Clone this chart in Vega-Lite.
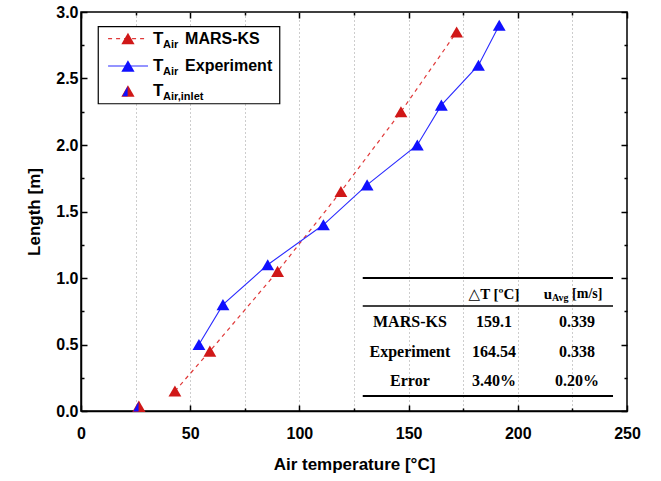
{
  "$schema": "https://vega.github.io/schema/vega-lite/v6.json",
  "width": 546,
  "height": 399,
  "autosize": {"type": "none"},
  "padding": {"left": 81, "top": 12, "right": 34, "bottom": 70},
  "background": "white",
  "config": {
    "view": {"stroke": "black", "strokeWidth": 1.5},
    "axis": {
      "labelFont": "Liberation Sans",
      "labelFontWeight": "bold",
      "labelFontSize": 16,
      "labelColor": "black",
      "titleFont": "Liberation Sans",
      "titleFontWeight": "bold",
      "titleFontSize": 17,
      "titleColor": "black",
      "tickColor": "black",
      "tickWidth": 1.5,
      "domainColor": "black",
      "domainWidth": 1.5
    }
  },
  "datasets": {
    "pts": [
      {"series": "MARS-KS", "T": 43, "L": 0.15},
      {"series": "MARS-KS", "T": 59, "L": 0.45},
      {"series": "MARS-KS", "T": 90, "L": 1.05},
      {"series": "MARS-KS", "T": 119, "L": 1.65},
      {"series": "MARS-KS", "T": 146.5, "L": 2.25},
      {"series": "MARS-KS", "T": 172, "L": 2.85},
      {"series": "Experiment", "T": 54, "L": 0.5},
      {"series": "Experiment", "T": 65, "L": 0.8},
      {"series": "Experiment", "T": 85.5, "L": 1.1},
      {"series": "Experiment", "T": 111, "L": 1.4},
      {"series": "Experiment", "T": 131, "L": 1.7},
      {"series": "Experiment", "T": 154, "L": 2.0},
      {"series": "Experiment", "T": 165, "L": 2.3},
      {"series": "Experiment", "T": 182, "L": 2.6},
      {"series": "Experiment", "T": 191.5, "L": 2.9}
    ],
    "inlet": [{"T": 26.5, "L": 0.035}],
    "legbox": [{"x": 7.9, "x2": 91, "y": 2.89, "y2": 2.31}],
    "leg": [
      {"series": "MARS-KS", "main": "MARS-KS", "sub": "Air", "ly": 2.80},
      {"series": "Experiment", "main": "Experiment", "sub": "Air", "ly": 2.594},
      {"series": "inlet", "main": "", "sub": "Air,inlet", "ly": 2.406}
    ],
    "thick": [
      {"x": 129, "x2": 243.6, "y": 1.0},
      {"x": 129, "x2": 243.6, "y": 0.113}
    ],
    "thin": [{"x": 129, "x2": 243.6, "y": 0.79}],
    "cells": [
      {"x": 150.6, "y": 0.669, "t": "MARS-KS"},
      {"x": 189.1, "y": 0.669, "t": "159.1"},
      {"x": 227.1, "y": 0.669, "t": "0.339"},
      {"x": 150.6, "y": 0.447, "t": "Experiment"},
      {"x": 189.1, "y": 0.447, "t": "164.54"},
      {"x": 227.1, "y": 0.447, "t": "0.338"},
      {"x": 150.6, "y": 0.228, "t": "Error"},
      {"x": 189.1, "y": 0.228, "t": "3.40%"},
      {"x": 227.1, "y": 0.228, "t": "0.20%"}
    ],
    "head": [{"x": 189.1, "y": 0.88, "t": "△T [ºC]"}],
    "uhead": [{"x": 215.7, "y": 0.88, "u": "u", "s": "Avg", "m": "[m/s]"}]
  },
  "resolve": {"axis": {"x": "independent", "y": "independent"}},
  "layer": [
    {
      "data": {"name": "pts"},
      "transform": [{"filter": "datum.series === 'MARS-KS'"}],
      "mark": {"type": "line", "color": "#e03a3a", "strokeWidth": 1.2, "strokeDash": [4, 4]},
      "encoding": {
        "x": {
          "field": "T", "type": "quantitative",
          "scale": {"domain": [0, 250], "nice": false, "zero": false},
          "axis": {
            "orient": "bottom",
            "values": [0, 25, 50, 75, 100, 125, 150, 175, 200, 225, 250],
            "labelExpr": "datum.value % 50 === 0 ? datum.label : ''",
            "format": "d",
            "tickSize": {"condition": {"test": "datum.value % 50 === 0", "value": -6}, "value": -3},
            "labelPadding": 20,
            "labelFlush": false,
            "grid": true,
            "gridDash": [1, 3],
            "gridWidth": 1,
            "gridColor": {"condition": {"test": "datum.value === 0 || datum.value === 250", "value": "transparent"}, "value": "#9a9a9a"},
            "title": "Air temperature  [°C]",
            "titlePadding": 15
          }
        },
        "y": {
          "field": "L", "type": "quantitative",
          "scale": {"domain": [0, 3], "nice": false},
          "axis": {
            "orient": "left",
            "values": [0, 0.25, 0.5, 0.75, 1, 1.25, 1.5, 1.75, 2, 2.25, 2.5, 2.75, 3],
            "format": ".1f",
            "labelExpr": "(datum.value * 2) % 1 === 0 ? datum.label : ''",
            "tickSize": {"condition": {"test": "(datum.value * 2) % 1 === 0", "value": -6}, "value": -3},
            "labelPadding": 9,
            "labelFlush": false,
            "grid": false,
            "title": "Length [m]",
            "titlePadding": 12
          }
        }
      }
    },
    {
      "data": {"name": "pts"},
      "transform": [{"filter": "datum.series === 'Experiment'"}],
      "mark": {"type": "line", "color": "#2a2aff", "strokeWidth": 1.1},
      "encoding": {
        "x": {
          "field": "T", "type": "quantitative",
          "scale": {"domain": [0, 250], "nice": false, "zero": false},
          "axis": {
            "orient": "top",
            "values": [0, 25, 50, 75, 100, 125, 150, 175, 200, 225, 250],
            "labels": false,
            "domain": false,
            "grid": false,
            "title": null,
            "tickSize": {"condition": {"test": "datum.value % 50 === 0", "value": -6}, "value": -3}
          }
        },
        "y": {
          "field": "L", "type": "quantitative",
          "scale": {"domain": [0, 3], "nice": false},
          "axis": {
            "orient": "right",
            "values": [0, 0.25, 0.5, 0.75, 1, 1.25, 1.5, 1.75, 2, 2.25, 2.5, 2.75, 3],
            "labels": false,
            "domain": false,
            "grid": false,
            "title": null,
            "tickSize": {"condition": {"test": "(datum.value * 2) % 1 === 0", "value": -6}, "value": -3}
          }
        }
      }
    },
    {
      "data": {"name": "pts"},
      "mark": {"type": "point", "shape": "triangle-up", "filled": true, "size": 165, "opacity": 1},
      "encoding": {
        "x": {"field": "T", "type": "quantitative", "axis": null},
        "y": {"field": "L", "type": "quantitative", "axis": null},
        "color": {"field": "series", "type": "nominal", "scale": {"domain": ["MARS-KS", "Experiment"], "range": ["#d01818", "#1010ff"]}, "legend": null}
      }
    },
    {
      "data": {"name": "inlet"},
      "mark": {"type": "point", "shape": "triangle-up", "filled": true, "size": 175, "opacity": 1, "color": "#d01818"},
      "encoding": {
        "x": {"field": "T", "type": "quantitative", "axis": null},
        "y": {"field": "L", "type": "quantitative", "axis": null}
      }
    },
    {
      "data": {"name": "inlet"},
      "mark": {"type": "point", "shape": "M-0.05,-0.7L-0.85,0.78L-0.05,0.78Z", "filled": true, "size": 175, "opacity": 1, "color": "#1010ff"},
      "encoding": {
        "x": {"field": "T", "type": "quantitative", "axis": null},
        "y": {"field": "L", "type": "quantitative", "axis": null}
      }
    },
    {
      "data": {"name": "legbox"},
      "mark": {"type": "rect", "fill": "white", "stroke": "black", "strokeWidth": 1.2},
      "encoding": {
        "x": {"field": "x", "type": "quantitative", "axis": null},
        "x2": {"field": "x2"},
        "y": {"field": "y", "type": "quantitative", "axis": null},
        "y2": {"field": "y2"}
      }
    },
    {
      "data": {"name": "leg"},
      "transform": [{"filter": "datum.series === 'MARS-KS'"}],
      "mark": {"type": "rule", "color": "#e03a3a", "strokeWidth": 1.2, "strokeDash": [4, 4]},
      "encoding": {
        "x": {"datum": 12.4, "type": "quantitative", "axis": null},
        "x2": {"datum": 30.7},
        "y": {"field": "ly", "type": "quantitative", "axis": null}
      }
    },
    {
      "data": {"name": "leg"},
      "transform": [{"filter": "datum.series === 'Experiment'"}],
      "mark": {"type": "rule", "color": "#2a2aff", "strokeWidth": 1.1},
      "encoding": {
        "x": {"datum": 12.4, "type": "quantitative", "axis": null},
        "x2": {"datum": 30.7},
        "y": {"field": "ly", "type": "quantitative", "axis": null}
      }
    },
    {
      "data": {"name": "leg"},
      "mark": {"type": "point", "shape": "triangle-up", "filled": true, "size": 175, "opacity": 1},
      "encoding": {
        "x": {"datum": 21.5, "type": "quantitative", "axis": null},
        "y": {"field": "ly", "type": "quantitative", "axis": null},
        "color": {"field": "series", "type": "nominal", "scale": {"domain": ["MARS-KS", "Experiment", "inlet"], "range": ["#d01818", "#1010ff", "#d01818"]}, "legend": null}
      }
    },
    {
      "data": {"name": "leg"},
      "transform": [{"filter": "datum.series === 'inlet'"}],
      "mark": {"type": "point", "shape": "M-0.05,-0.7L-0.85,0.78L-0.05,0.78Z", "filled": true, "size": 175, "opacity": 1, "color": "#1010ff"},
      "encoding": {
        "x": {"datum": 21.5, "type": "quantitative", "axis": null},
        "y": {"field": "ly", "type": "quantitative", "axis": null}
      }
    },
    {
      "data": {"name": "leg"},
      "mark": {"type": "text", "text": "T", "align": "left", "baseline": "middle", "font": "Liberation Sans", "fontWeight": "bold", "fontSize": 17, "color": "black"},
      "encoding": {
        "x": {"datum": 33, "type": "quantitative", "axis": null},
        "y": {"field": "ly", "type": "quantitative", "axis": null}
      }
    },
    {
      "data": {"name": "leg"},
      "mark": {"type": "text", "align": "left", "baseline": "middle", "font": "Liberation Sans", "fontWeight": "bold", "fontSize": 11, "dx": 10, "dy": 6, "color": "black"},
      "encoding": {
        "x": {"datum": 33, "type": "quantitative", "axis": null},
        "y": {"field": "ly", "type": "quantitative", "axis": null},
        "text": {"field": "sub"}
      }
    },
    {
      "data": {"name": "leg"},
      "mark": {"type": "text", "align": "left", "baseline": "middle", "font": "Liberation Sans", "fontWeight": "bold", "fontSize": 16, "dx": 32, "color": "black"},
      "encoding": {
        "x": {"datum": 33, "type": "quantitative", "axis": null},
        "y": {"field": "ly", "type": "quantitative", "axis": null},
        "text": {"field": "main"}
      }
    },
    {
      "data": {"name": "thick"},
      "mark": {"type": "rule", "color": "black", "strokeWidth": 2},
      "encoding": {
        "x": {"field": "x", "type": "quantitative", "axis": null},
        "x2": {"field": "x2"},
        "y": {"field": "y", "type": "quantitative", "axis": null}
      }
    },
    {
      "data": {"name": "thin"},
      "mark": {"type": "rule", "color": "black", "strokeWidth": 1.5},
      "encoding": {
        "x": {"field": "x", "type": "quantitative", "axis": null},
        "x2": {"field": "x2"},
        "y": {"field": "y", "type": "quantitative", "axis": null}
      }
    },
    {
      "data": {"name": "cells"},
      "mark": {"type": "text", "align": "center", "baseline": "middle", "font": "Liberation Serif", "fontWeight": "bold", "fontSize": 16, "color": "black"},
      "encoding": {
        "x": {"field": "x", "type": "quantitative", "axis": null},
        "y": {"field": "y", "type": "quantitative", "axis": null},
        "text": {"field": "t"}
      }
    },
    {
      "data": {"name": "head"},
      "mark": {"type": "text", "align": "center", "baseline": "middle", "font": "Liberation Serif, DejaVu Serif", "fontWeight": "bold", "fontSize": 15, "color": "black"},
      "encoding": {
        "x": {"field": "x", "type": "quantitative", "axis": null},
        "y": {"field": "y", "type": "quantitative", "axis": null},
        "text": {"field": "t"}
      }
    },
    {
      "data": {"name": "uhead"},
      "mark": {"type": "text", "align": "right", "baseline": "middle", "font": "Liberation Serif", "fontWeight": "bold", "fontSize": 15, "color": "black"},
      "encoding": {
        "x": {"field": "x", "type": "quantitative", "axis": null},
        "y": {"field": "y", "type": "quantitative", "axis": null},
        "text": {"field": "u"}
      }
    },
    {
      "data": {"name": "uhead"},
      "mark": {"type": "text", "align": "left", "baseline": "middle", "font": "Liberation Serif", "fontWeight": "bold", "fontSize": 10, "dx": 0, "dy": 4, "color": "black"},
      "encoding": {
        "x": {"field": "x", "type": "quantitative", "axis": null},
        "y": {"field": "y", "type": "quantitative", "axis": null},
        "text": {"field": "s"}
      }
    },
    {
      "data": {"name": "uhead"},
      "mark": {"type": "text", "align": "left", "baseline": "middle", "font": "Liberation Serif", "fontWeight": "bold", "fontSize": 14, "dx": 20, "color": "black"},
      "encoding": {
        "x": {"field": "x", "type": "quantitative", "axis": null},
        "y": {"field": "y", "type": "quantitative", "axis": null},
        "text": {"field": "m"}
      }
    }
  ]
}
